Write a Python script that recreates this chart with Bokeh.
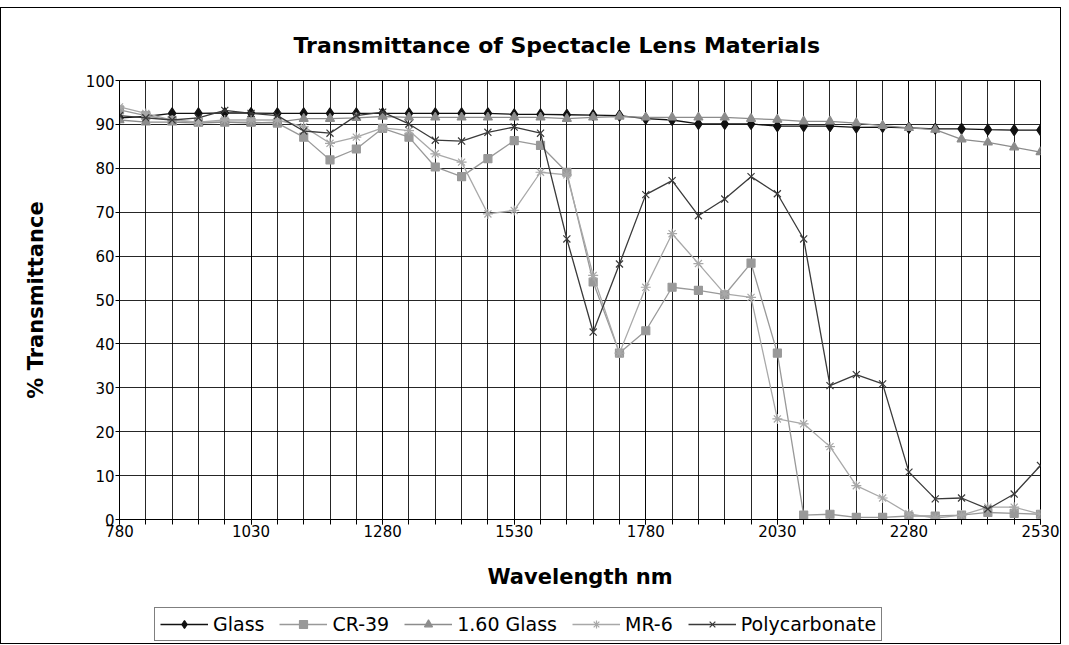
from bokeh.plotting import figure
from bokeh.models import FixedTicker, Legend, LegendItem
from bokeh.layouts import column
from bokeh.embed import file_html
from bokeh.resources import INLINE

wavelength = [780, 830, 880, 930, 980, 1030, 1080, 1130, 1180, 1230, 1280, 1330,
              1380, 1430, 1480, 1530, 1580, 1630, 1680, 1730, 1780, 1830, 1880, 1930,
              1980, 2030, 2080, 2130, 2180, 2230, 2280, 2330, 2380, 2430, 2480, 2530]

glass = [91.5, 91.8, 92.5, 92.5, 92.6, 92.6, 92.5, 92.5, 92.5, 92.5, 92.5, 92.5,
         92.5, 92.5, 92.5, 92.3, 92.3, 92.2, 92.1, 92.0, 91.3, 91.0, 90.1, 90.1,
         90.1, 89.6, 89.6, 89.6, 89.3, 89.4, 89.2, 89.0, 89.0, 88.8, 88.7, 88.7]

cr39 = [93.3, 92.0, 90.9, 90.5, 90.5, 90.5, 90.3, 87.1, 81.9, 84.4, 89.1, 87.1,
        80.3, 78.1, 82.2, 86.3, 85.2, 79.1, 54.1, 37.9, 43.0, 52.9, 52.2, 51.2,
        58.4, 37.9, 1.0, 1.2, 0.5, 0.5, 0.8, 0.8, 1.0, 1.6, 1.4, 1.2]

glass160 = [91.0, 90.5, 90.5, 90.3, 90.5, 90.3, 90.5, 91.3, 91.3, 91.5, 91.8, 91.6,
            91.6, 91.6, 91.6, 91.6, 91.6, 91.3, 91.6, 91.8, 91.6, 91.6, 91.6, 91.6,
            91.3, 91.1, 90.7, 90.7, 90.3, 89.7, 89.2, 88.8, 86.6, 85.9, 84.8, 83.7]

mr6 = [94.0, 92.5, 91.0, 90.5, 91.0, 91.0, 91.0, 89.5, 85.7, 87.1, 89.2, 88.6,
       83.3, 81.4, 69.6, 70.4, 79.1, 78.5, 55.6, 37.9, 52.9, 65.1, 58.3, 51.4,
       50.6, 22.9, 21.8, 16.6, 7.7, 4.9, 1.3, 0.3, 1.0, 2.8, 2.8, 1.2]

polycarbonate = [92.0, 91.5, 91.0, 91.5, 93.2, 92.5, 92.0, 88.5, 88.0, 92.0, 92.8, 90.1,
                 86.4, 86.2, 88.2, 89.4, 88.0, 63.9, 42.7, 58.2, 74.0, 77.2, 69.2, 73.0,
                 78.1, 74.2, 63.9, 30.5, 33.0, 30.9, 10.8, 4.7, 4.9, 2.4, 5.8, 12.3]

x_labels = [780, 1030, 1280, 1530, 1780, 2030, 2280, 2530]
y_ticks = [0, 10, 20, 30, 40, 50, 60, 70, 80, 90, 100]

FONT = "DejaVu Sans"

p = figure(width=1059, height=597, output_backend="svg", toolbar_location=None,
           x_range=(780, 2530), y_range=(0, 100),
           min_border_left=118, min_border_top=72, min_border_right=20, min_border_bottom=86,
           title="Transmittance of Spectacle Lens Materials")
p.frame_width = 921
p.frame_height = 439

p.title.text_font = FONT
p.title.text_font_size = "22px"
p.title.text_font_style = "bold"
p.title.text_color = "black"
p.title.align = "left"
p.title.offset = 174
p.title.standoff = 45

p.outline_line_color = "black"
p.outline_line_width = 1
p.background_fill_color = "white"
p.border_fill_color = "white"

p.xaxis.ticker = FixedTicker(ticks=x_labels, minor_ticks=wavelength)
p.yaxis.ticker = FixedTicker(ticks=y_ticks)
p.xgrid.grid_line_color = "black"
p.xgrid.minor_grid_line_color = "black"
p.ygrid.grid_line_color = "black"
p.xgrid.grid_line_alpha = 0.85
p.xgrid.minor_grid_line_alpha = 0.85
p.ygrid.grid_line_alpha = 0.85

for ax in (p.xaxis[0], p.yaxis[0]):
    ax.axis_line_color = "black"
    ax.major_tick_line_color = "black"
    ax.minor_tick_line_color = "black"
    ax.major_tick_in = 0
    ax.major_tick_out = 5
    ax.minor_tick_in = 0
    ax.minor_tick_out = 5
    ax.major_label_text_font = FONT
    ax.major_label_text_font_size = "15px"
    ax.major_label_text_color = "black"
    ax.axis_label_text_font = FONT
    ax.axis_label_text_font_size = "21px"
    ax.axis_label_text_font_style = "bold"
    ax.axis_label_text_color = "black"
p.yaxis.minor_tick_out = 0
p.yaxis.major_tick_out = 4
p.xaxis.major_label_standoff = 0
p.yaxis.major_label_standoff = 1
p.xaxis.axis_label = "Wavelength nm"
p.yaxis.axis_label = "% Transmittance"
p.xaxis.axis_label_standoff = 25
p.yaxis.axis_label_standoff = 35

series = [
    ("Glass", glass, "#111111", "diamond", 11),
    ("CR-39", cr39, "#999999", "square", 8),
    ("1.60 Glass", glass160, "#8c8c8c", "triangle", 9),
    ("MR-6", mr6, "#a8a8a8", "asterisk", 10),
    ("Polycarbonate", polycarbonate, "#3a3a3a", "x", 10),
]

# legend strip below the chart (its renderers use the same data, out of view)
pl = figure(width=1059, height=38, output_backend="svg", toolbar_location=None,
            x_axis_type=None, y_axis_type=None, min_border=0,
            x_range=(780, 2530), y_range=(200, 300))
pl.outline_line_color = None
pl.grid.visible = False
pl.background_fill_color = "white"
pl.border_fill_color = "white"

items = []
for name, ys, color, marker, size in series:
    p.line(wavelength, ys, line_color=color, line_width=1.3)
    p.scatter(wavelength, ys, marker=marker, size=size, fill_color=color,
              line_color=color, line_width=1.2)
    k1 = pl.line(wavelength, ys, line_color=color, line_width=1.3)
    k2 = pl.scatter(wavelength, ys, marker=marker, size=size, fill_color=color,
                    line_color=color, line_width=1.2)
    items.append(LegendItem(label=name, renderers=[k1, k2]))

legend = Legend(items=items, orientation="horizontal", location=(35, 2))
legend.label_text_font = FONT
legend.label_text_font_size = "19px"
legend.label_text_color = "black"
legend.border_line_color = "black"
legend.border_line_width = 1
legend.background_fill_color = "white"
legend.background_fill_alpha = 1
legend.glyph_width = 48
legend.glyph_height = 20
legend.spacing = 15
legend.padding = 5
legend.margin = 0
legend.label_standoff = 5
pl.add_layout(legend, "center")

layout = column(p, pl, spacing=0)
layout.styles = {"border": "1px solid black", "margin-top": "7px"}

open("out.html", "w").write(file_html(layout, INLINE))
